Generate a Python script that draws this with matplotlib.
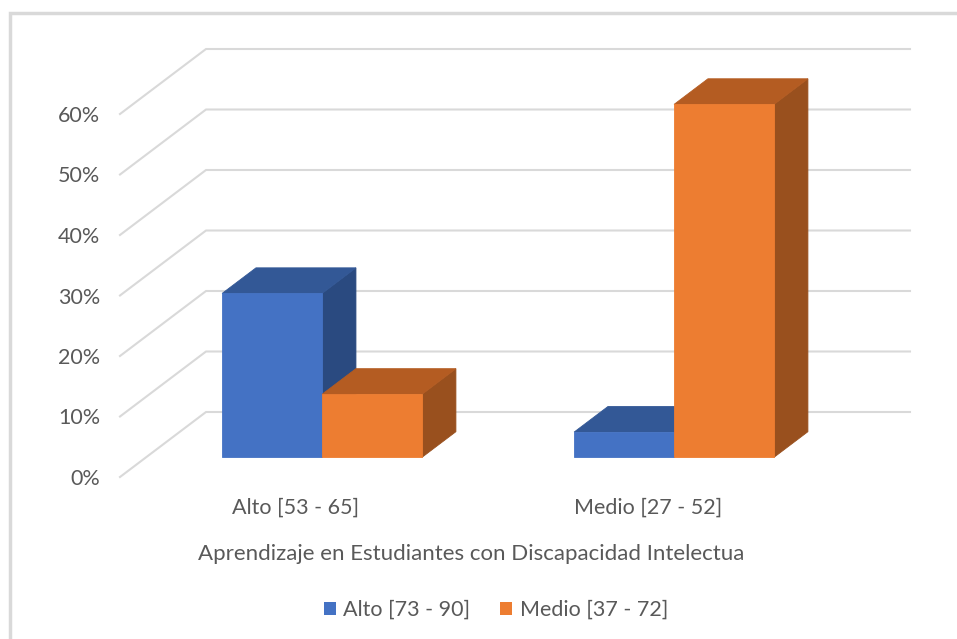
import matplotlib
matplotlib.use("Agg")
import matplotlib.pyplot as plt
from matplotlib.patches import Polygon, Patch
from matplotlib.lines import Line2D

# ---- data ----
categories = ["Alto [53 - 65]", "Medio [27 - 52]"]
series_names = ["Alto [73 - 90]", "Medio [37 - 72]"]
alto_values = [13 / 48, 2 / 48]     # share of students per category
medio_values = [5 / 48, 28 / 48]
y_ticks = [0.0, 0.1, 0.2, 0.3, 0.4, 0.5, 0.6]
y_tick_labels = ["0%", "10%", "20%", "30%", "40%", "50%", "60%"]
x_title = "Aprendizaje en Estudiantes con Discapacidad Intelectua"

# ---- styling ----
font = ["Lato", "DejaVu Sans"]
text_color = "#595959"
grid_color = "#D9D9D9"
face_colors = {
    "front": ["#4472C4", "#ED7D31"],
    "top": ["#335896", "#B45C22"],
    "side": ["#2A4A80", "#99501E"],
}

# ---- pseudo-3D projection (pixel space) ----
X0, CAT_W = 120.0, 352.0          # front-plane left edge, width per category
Y0, VAL_SCALE = 477.0, 605.0      # baseline and px per unit value
DEPTH_DX, DEPTH_DY = 86.0, -65.0  # offset of the back wall
BAR_FRAC = 0.284                  # bar width as fraction of a category
D_FRONT, D_BACK = 0.303, 0.697    # depth span of the bars


def proj(u, v, d):
    """category-axis position u, value v, depth d (0 front .. 1 back)."""
    return (X0 + u * CAT_W + d * DEPTH_DX, Y0 - v * VAL_SCALE + d * DEPTH_DY)


fig = plt.figure(figsize=(9.57, 6.39), dpi=100)
ax = fig.add_axes([0, 0, 1, 1])
ax.set_xlim(0, 957)
ax.set_ylim(639, 0)
ax.axis("off")

# chart-area border
ax.add_line(Line2D([10, 10, 957], [639, 13, 13], color=grid_color, lw=2.5,
                   solid_joinstyle="miter"))

n_cat = len(categories)

# gridlines: diagonal on the left floor edge plus horizontal on the back wall
for v in y_ticks:
    p0 = proj(0, v, 0)
    p1 = proj(0, v, 1)
    p2 = proj(n_cat, v, 1)
    ax.add_line(Line2D([p0[0], p1[0], p2[0]], [p0[1], p1[1], p2[1]],
                       color=grid_color, lw=1.5, zorder=1))

# tick labels
for v, lab in zip(y_ticks, y_tick_labels):
    x, y = proj(0, v, 0)
    ax.text(x - 20, y + 2, lab, ha="right", va="center", fontsize=15.5,
            color=text_color, family=font)


def draw_box(u0, u1, v, k):
    f = face_colors
    front = [proj(u0, 0, D_FRONT), proj(u1, 0, D_FRONT),
             proj(u1, v, D_FRONT), proj(u0, v, D_FRONT)]
    top = [proj(u0, v, D_FRONT), proj(u1, v, D_FRONT),
           proj(u1, v, D_BACK), proj(u0, v, D_BACK)]
    side = [proj(u1, 0, D_FRONT), proj(u1, 0, D_BACK),
            proj(u1, v, D_BACK), proj(u1, v, D_FRONT)]
    for pts, c in ((side, f["side"][k]), (top, f["top"][k]), (front, f["front"][k])):
        ax.add_patch(Polygon(pts, closed=True, facecolor=c, edgecolor=c,
                             lw=0.6, zorder=3, joinstyle="miter"))


series = [alto_values, medio_values]
for i in range(n_cat):
    center = i + 0.5
    for k, vals in enumerate(series):
        u0 = center - BAR_FRAC + k * BAR_FRAC
        draw_box(u0, u0 + BAR_FRAC, vals[i], k)

# category labels
for i, lab in enumerate(categories):
    x, _ = proj(i + 0.5, 0, 0)
    ax.text(x, 508, lab, ha="center", va="center", fontsize=15.5,
            color=text_color, family=font)

ax.text(471, 554, x_title, ha="center", va="center", fontsize=16,
        color=text_color, family=font)

handles = [Patch(facecolor=face_colors["front"][k], edgecolor="none")
           for k in range(len(series_names))]
leg = fig.legend(handles, series_names, loc="center",
                 bbox_to_anchor=(496 / 957, 1 - 610 / 639), ncol=2,
                 frameon=False, handlelength=0.55, handleheight=0.55,
                 handletextpad=0.35, columnspacing=1.4,
                 prop={"family": font, "size": 15.5})
for t in leg.get_texts():
    t.set_color(text_color)

fig.savefig("out.png", dpi=100, facecolor="white")
